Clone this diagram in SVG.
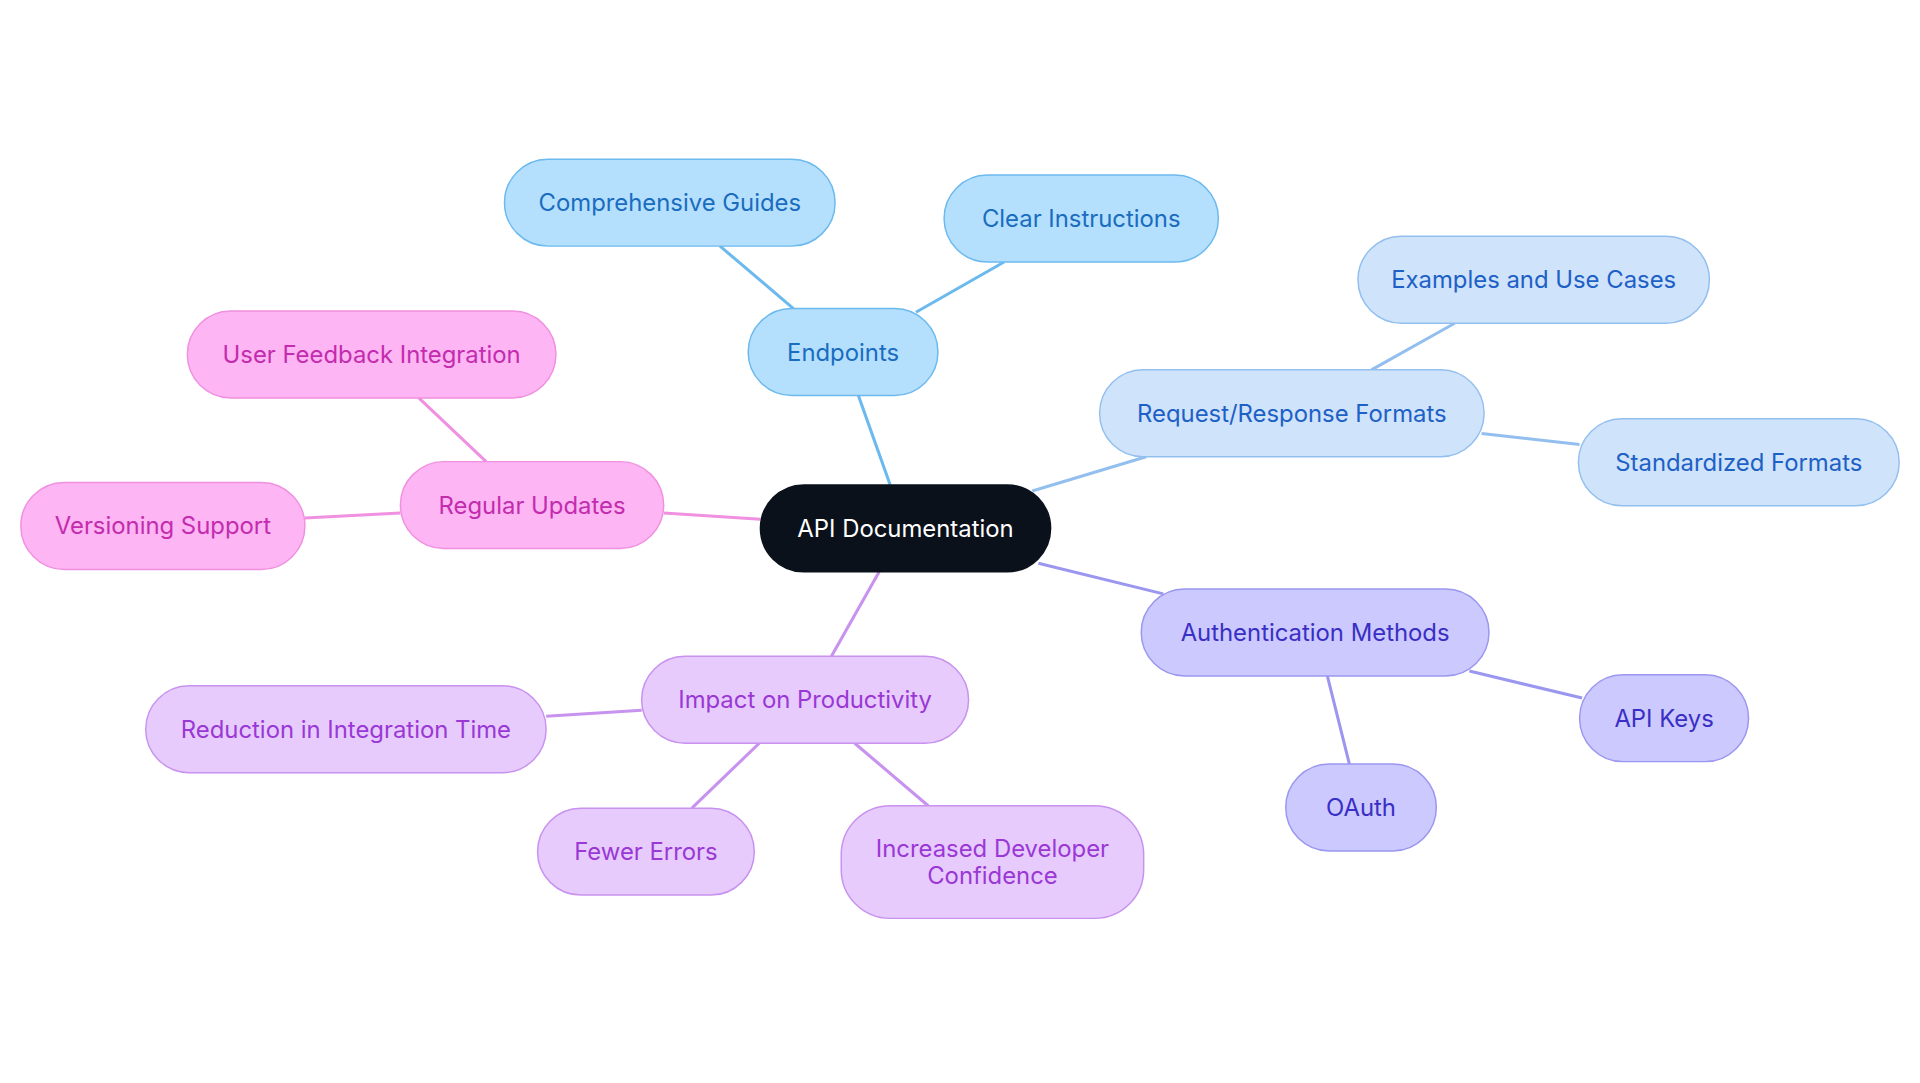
<svg xmlns="http://www.w3.org/2000/svg" width="1920" height="1083" viewBox="0 0 1920 1083">
<style>
text{font-family:Inter,"Noto Sans",sans-serif;font-size:19.5px;text-anchor:middle;dominant-baseline:central}
.c rect{fill:#0b111b;stroke:#0b111b;stroke-width:1.2}.c text{fill:#fff}
.b rect{fill:#b4e0fd;stroke:#6cb9ee;stroke-width:1.2}.b text{fill:#1a6cbf}
.r rect{fill:#cfe3fb;stroke:#93bfef;stroke-width:1.2}.r text{fill:#1d60c6}
.a rect{fill:#cbc9fd;stroke:#9b96ef;stroke-width:1.2}.a text{fill:#3a2fc4}
.p rect{fill:#e7cbfd;stroke:#c892ef;stroke-width:1.2}.p text{fill:#9a38d5}
.m rect{fill:#fdb5f3;stroke:#f090e0;stroke-width:1.2}.m text{fill:#c32cae}
#edges line{stroke-width:2.5}
</style>
<rect width="1920" height="1083" fill="#fff"/>
<g transform="scale(1.2245)">
<g id="edges">
<line x1="727" y1="396" x2="701" y2="323" stroke="#6cb9ee"/>
<line x1="648" y1="252" x2="588" y2="201" stroke="#6cb9ee"/>
<line x1="748" y1="255" x2="820" y2="214" stroke="#6cb9ee"/>
<line x1="843" y1="401" x2="936" y2="373" stroke="#93bfef"/>
<line x1="1120" y1="302" x2="1188" y2="264" stroke="#93bfef"/>
<line x1="1210" y1="354" x2="1290" y2="363" stroke="#93bfef"/>
<line x1="848" y1="460" x2="950" y2="485" stroke="#9b96ef"/>
<line x1="1200" y1="548" x2="1292" y2="570" stroke="#9b96ef"/>
<line x1="1084" y1="552" x2="1102" y2="624" stroke="#9b96ef"/>
<line x1="718" y1="467" x2="679" y2="536" stroke="#c892ef"/>
<line x1="524" y1="580" x2="446" y2="585" stroke="#c892ef"/>
<line x1="620" y1="607" x2="565" y2="660" stroke="#c892ef"/>
<line x1="698" y1="607" x2="758" y2="658" stroke="#c892ef"/>
<line x1="621" y1="424" x2="542" y2="419" stroke="#f090e0"/>
<line x1="397" y1="377" x2="342" y2="325" stroke="#f090e0"/>
<line x1="327" y1="419" x2="249" y2="423" stroke="#f090e0"/>
</g>
<g id="n0" class="c"><rect x="621" y="396" width="237" height="71" rx="35.5"/><text x="739.5" y="431.5">API Documentation</text></g>
<g id="n1" class="b"><rect x="611" y="252" width="155" height="71" rx="35.5"/><text x="688.5" y="287.5">Endpoints</text></g>
<g id="n2" class="b"><rect x="412" y="130" width="270" height="71" rx="35.5"/><text x="547" y="165.5">Comprehensive Guides</text></g>
<g id="n3" class="b"><rect x="771" y="143" width="224" height="71" rx="35.5"/><text x="883" y="178.5">Clear Instructions</text></g>
<g id="n4" class="r"><rect x="898" y="302" width="314" height="71" rx="35.5"/><text x="1055" y="337.5">Request/Response Formats</text></g>
<g id="n5" class="r"><rect x="1109" y="193" width="287" height="71" rx="35.5"/><text x="1252.5" y="228.5">Examples and Use Cases</text></g>
<g id="n6" class="r"><rect x="1289" y="342" width="262" height="71" rx="35.5"/><text x="1420" y="377.5">Standardized Formats</text></g>
<g id="n7" class="a"><rect x="932" y="481" width="284" height="71" rx="35.5"/><text x="1074" y="516.5">Authentication Methods</text></g>
<g id="n8" class="a"><rect x="1290" y="551" width="138" height="71" rx="35.5"/><text x="1359" y="586.5">API Keys</text></g>
<g id="n9" class="a"><rect x="1050" y="624" width="123" height="71" rx="35.5"/><text x="1111.5" y="659.5">OAuth</text></g>
<g id="n10" class="p"><rect x="524" y="536" width="267" height="71" rx="35.5"/><text x="657.5" y="571.5">Impact on Productivity</text></g>
<g id="n11" class="p"><rect x="119" y="560" width="327" height="71" rx="35.5"/><text x="282.5" y="595.5">Reduction in Integration Time</text></g>
<g id="n12" class="p"><rect x="439" y="660" width="177" height="71" rx="35.5"/><text x="527.5" y="695.5">Fewer Errors</text></g>
<g id="n13" class="p"><rect x="687" y="658" width="247" height="92" rx="40"/><text x="810.5" y="693">Increased Developer</text><text x="810.5" y="715">Confidence</text></g>
<g id="n14" class="m"><rect x="327" y="377" width="215" height="71" rx="35.5"/><text x="434.5" y="412.5">Regular Updates</text></g>
<g id="n15" class="m"><rect x="153" y="254" width="301" height="71" rx="35.5"/><text x="303.5" y="289.5">User Feedback Integration</text></g>
<g id="n16" class="m"><rect x="17" y="394" width="232" height="71" rx="35.5"/><text x="133" y="429.5">Versioning Support</text></g>
</g>
</svg>
